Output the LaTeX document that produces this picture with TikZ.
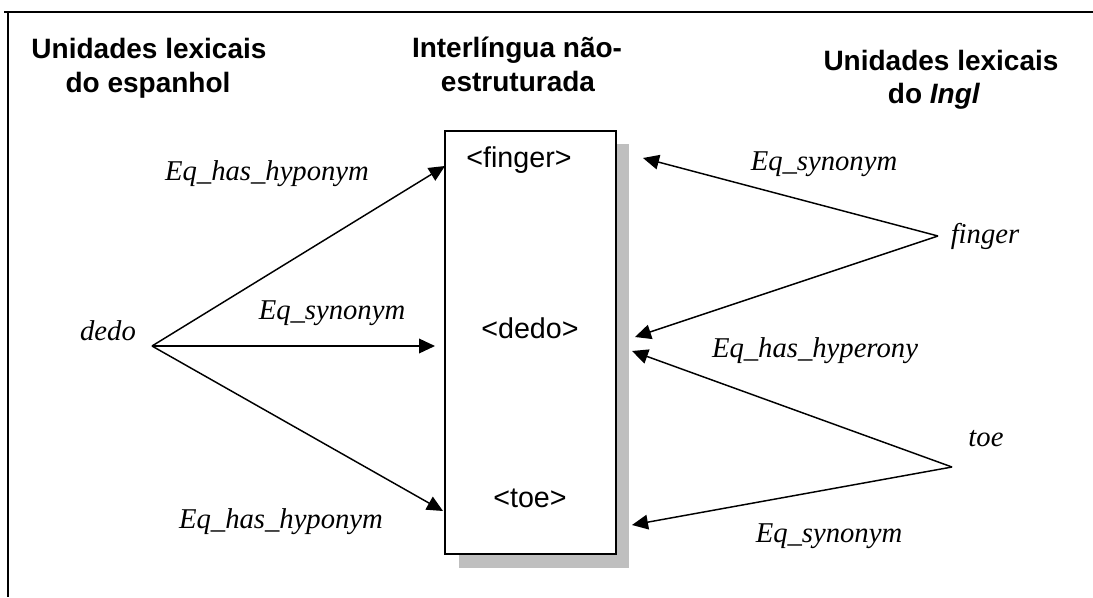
\documentclass[tikz,border=0pt]{standalone}
\usepackage{fontspec}
\setmainfont{Liberation Serif}
\setsansfont{Liberation Sans}
\usetikzlibrary{arrows.meta}
\tikzset{
  head/.style={font=\sffamily\bfseries\fontsize{21}{24}\selectfont, inner sep=0pt, anchor=base},
  word/.style={font=\itshape\fontsize{21.5}{24}\selectfont, inner sep=0pt},
  concept/.style={font=\sffamily\fontsize{21.5}{24}\selectfont, inner sep=0pt},
  rel/.style={font=\itshape\fontsize{21.5}{24}\selectfont, inner sep=0pt},
  link/.style={line width=1.1pt, -{Triangle[length=12pt,width=11pt]}},
}
\begin{document}
\begin{tikzpicture}[x=0.75pt, y=-0.75pt]
\useasboundingbox (0,0) rectangle (1093,597);
% outer frame
\draw[line width=1.4pt] (4,12) -- (1093,12);
\draw[line width=1.4pt] (8,12) -- (8,597);

% column headings
\node[head] (h1a) at (149,58) {Unidades lexicais};
\node[head] (h1b) at (148,92) {do espanhol};
\node[head] (h2a) at (517,57) {Interlíngua não-};
\node[head] (h2b) at (518,91) {estruturada};
\node[head] (h3a) at (941,70) {Unidades lexicais};
\node[head] (h3b) at (934,103) {do \textit{Ingl}};

% interlingua box with shadow
\fill[black!25] (459,144) rectangle (629,568);
\node[draw, line width=1.1pt, fill=white, minimum width=128.25pt, minimum height=317.25pt, inner sep=0pt] (il) at (530.5,342.5) {};
\node[concept] (cf) at (519,160) {<finger>};
\node[concept] (cd) at (530,328) {<dedo>};
\node[concept] (ct) at (530,498) {<toe>};

% lexical units
\node[word] (dedo) at (108,331) {dedo};
\node[word] (finger) at (985,236) {finger};
\node[word] (toe) at (986,439) {toe};
\coordinate (dA) at (152,346);
\coordinate (fA) at (938,236);
\coordinate (tA) at (952,467);

% arrow tips at the box
\coordinate (tL1) at (445,166);
\coordinate (tL2) at (435,346);
\coordinate (tL3) at (443,511);
\coordinate (tR1) at (643,158);
\coordinate (tR2) at (635,337);
\coordinate (tR3) at (632,351);
\coordinate (tR4) at (632,525);

\draw[link] (dA) -- (tL1);
\draw[link] (dA) -- (tL2);
\draw[link] (dA) -- (tL3);
\draw[link] (fA) -- (tR1);
\draw[link] (fA) -- (tR2);
\draw[link] (tA) -- (tR3);
\draw[link] (tA) -- (tR4);

% relation labels
\node[rel] (r1) at (267,174) {Eq\_has\_hyponym};
\node[rel] (r2) at (332,313) {Eq\_synonym};
\node[rel] (r3) at (281,522) {Eq\_has\_hyponym};
\node[rel] (r4) at (824,164) {Eq\_synonym};
\node[rel] (r5) at (815,351) {Eq\_has\_hyperony};
\node[rel] (r6) at (829,536) {Eq\_synonym};
\end{tikzpicture}
\end{document}
